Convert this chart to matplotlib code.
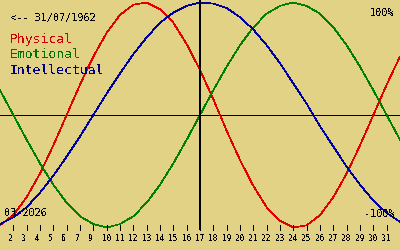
import matplotlib
matplotlib.use('Agg')
import matplotlib.pyplot as plt

# Data (-1 = -100%, 1 = 100%)
day_pos = list(range(31))
physical = [-0.98, -0.89, -0.73, -0.52, -0.27, 0.0, 0.27, 0.52, 0.73, 0.89, 0.98,
            1.0, 0.94, 0.82, 0.63, 0.40, 0.14, -0.14, -0.40, -0.63, -0.82,
            -0.94, -1.0, -0.98, -0.89, -0.73, -0.52, -0.27, 0.0, 0.27, 0.52]
emotional = [0.22, 0.0, -0.22, -0.43, -0.62, -0.78, -0.90, -0.97, -1.0, -0.97, -0.90,
             -0.78, -0.62, -0.43, -0.22, 0.0, 0.22, 0.43, 0.62, 0.78, 0.90,
             0.97, 1.0, 0.97, 0.90, 0.78, 0.62, 0.43, 0.22, 0.0, -0.22]
intellectual = [-0.97, -0.91, -0.82, -0.69, -0.54, -0.37, -0.19, 0.0, 0.19, 0.37, 0.54,
                0.69, 0.82, 0.91, 0.97, 1.0, 0.99, 0.95, 0.87, 0.76, 0.62,
                0.46, 0.28, 0.10, -0.10, -0.28, -0.46, -0.62, -0.76, -0.87, -0.95]
tick_pos = list(range(1, 30))
tick_labels = ['2', '3', '4', '5', '6', '7', '9', '10', '11', '12', '13', '14', '15',
               '16', '17', '18', '19', '20', '21', '22', '23', '24', '25', '26',
               '27', '28', '29', '30', '31']
today = 15
birth = '31/07/1962'
month = '03-2026'

bg = '#e1d285'
plt.rcParams['text.antialiased'] = False
mono = 'DejaVu Sans Mono'

fig = plt.figure(figsize=(4, 2.5), dpi=100, facecolor=bg)
ax = fig.add_axes([0, 0, 1, 1])
ax.set_facecolor(bg)
ax.set_xlim(0, 30)
# 112.5 px per unit, zero line 115 px from the top
ax.set_ylim(-135 / 112.5, 115 / 112.5)
ax.axis('off')

def px(x, y):
    return x / 400, 1 - y / 250

ax.axhline(0, color='black', lw=0.72, antialiased=False)
ax.plot(day_pos, physical, color='#e00000', lw=0.5, antialiased=False)
ax.plot(day_pos, emotional, color='#008000', lw=0.5, antialiased=False)
ax.plot(day_pos, intellectual, color='#0000a0', lw=0.5, antialiased=False)
ax.vlines(today, -115 / 112.5, 115 / 112.5, color='black', lw=1.44, antialiased=False)

# day ticks
ax.vlines(tick_pos, -110 / 112.5, -115 / 112.5, color='black', lw=0.72, antialiased=False)
for p, lab in zip(tick_pos, tick_labels):
    ax.text(p - 0.37, -126 / 112.5, lab, ha='left', va='baseline',
            fontsize=5.6, family=mono, color='black')

fig.text(*px(9.5, 21), '<-- ' + birth, fontsize=7.4, family=mono, va='baseline')
fig.text(*px(9.5, 43), 'Physical', fontsize=9.4, family=mono, color='#d00000', va='baseline')
fig.text(*px(9.5, 58.5), 'Emotional', fontsize=9.4, family=mono, color='#007000', va='baseline')
fig.text(*px(9.5, 73.5), 'Intellectual', fontsize=9.4, family=mono, color='#000080', va='baseline')
fig.text(*px(394, 16), '100%', fontsize=7.4, family=mono, ha='right', va='baseline')
fig.text(*px(395, 217), '-100%', fontsize=7.4, family=mono, ha='right', va='baseline')
fig.text(*px(4.5, 216), month, fontsize=7.4, family=mono, va='baseline')

fig.savefig('out.png', dpi=100, facecolor=bg)
